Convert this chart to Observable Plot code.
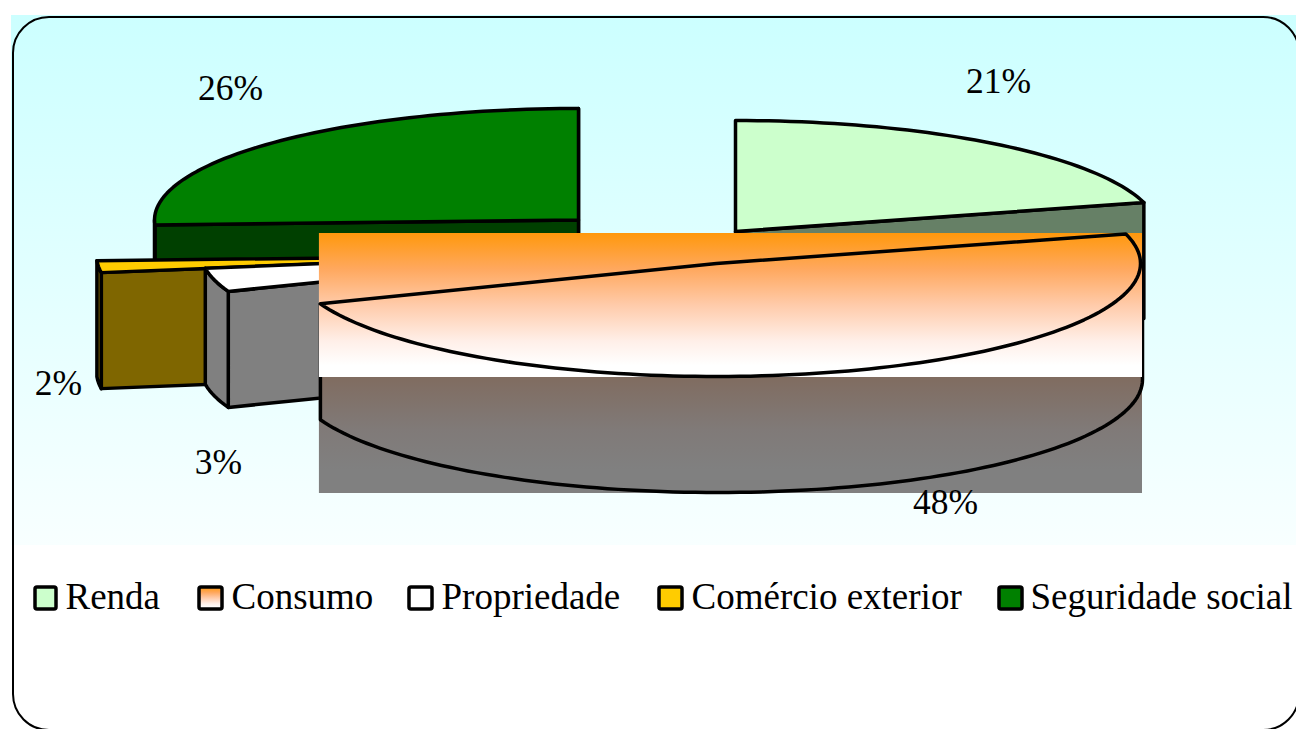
<!DOCTYPE html>
<html>
<head>
<meta charset="utf-8">
<style>
html,body{margin:0;padding:0;background:#fff;overflow:hidden}
</style>
<script src="https://cdn.jsdelivr.net/npm/d3@7"></script>
<script src="https://cdn.jsdelivr.net/npm/@observablehq/plot@0.6"></script>
</head>
<body>
<div id="chart"></div>
<script>
// ---------- data ----------
const categories = ["Renda", "Consumo", "Propriedade", "Comércio exterior", "Seguridade social"];
const shares = [20.8, 48.4, 3.4, 1.7, 25.7];

// ---------- styles ----------
const topFills = ["#CCFFCC", "url(#consumoTop)", "#FFFFFF", "#FFCC00", "#008000"];
const wallFills = ["#668066", "url(#consumoWall)", "#808080", "#7F6600", "#004000"];

// ---------- layout (pie projection, exploded slice centres) ----------
const depth = 116;
const placement = [
  {cx: 735, cy: 231, rx: 423, ry: 111},
  {cx: 716, cy: 263, rx: 424, ry: 113, wallCx: 717, wallRx: 425},
  {cx: 623, cy: 251, rx: 423, ry: 112},
  {cx: 519, cy: 255.3, rx: 423, ry: 112},
  {cx: 578, cy: 219.5, rx: 424, ry: 111.5}
];
const labelAt = [[998, 92], [945, 513], [218, 473], [58, 394], [230, 99]];
const legendSwatchX = [[35, 56], [199, 222], [409, 432], [659, 682], [999, 1022]];
const legendTextX = [65, 231, 441, 691, 1030];
const drawOrder = [4, 0, 3, 2, 1];
const lineWeight = 3.5;

// ---------- geometry from the shares ----------
const rad = d => d * Math.PI / 180;
const boundaries = d3.cumsum(shares).map(c => -90 + c * 3.6);
const starts = [-90, ...boundaries.slice(0, -1)];

function arc(p, t0, t1, cx = p.cx, rx = p.rx, dy = 0) {
  const ts = d3.range(t0, t1, 1.5).concat([t1]);
  return ts.map(t => ({x: cx + rx * Math.cos(rad(t)), y: p.cy + dy + p.ry * Math.sin(rad(t))}));
}

function sliceMarks(i) {
  const p = placement[i], t0 = starts[i], t1 = boundaries[i];
  const top = arc(p, t0, t1);
  const apex = {x: p.cx, y: p.cy};
  const opts = f => ({x: "x", y: "y", fill: f, stroke: "#000", strokeWidth: lineWeight, strokeLinejoin: "round"});
  const marks = [];
  const down = q => ({x: q.x, y: q.y + depth});
  const wallQuad = c => [c, apex, down(apex), down(c), c];
  if (i === 1) {
    // Consumo: its fills paint the whole bounding box of each face
    const wall = arc(p, Math.max(t0, 0), Math.min(t1, 180), p.wallCx, p.wallRx, depth);
    const x1 = d3.min(wall, d => d.x) - 1, x2 = d3.max(wall, d => d.x);
    const y1 = Math.floor(d3.min(top, d => d.y)), y2 = p.cy + p.ry + 1;
    marks.push(Plot.rect([0], {x1: () => x1, x2: () => x2, y1: () => y2, y2: () => y2 + depth, fill: wallFills[i]}));
    const edge = [{x: wall[0].x, y: wall[0].y - depth}, ...wall, {x: wall[wall.length - 1].x, y: wall[wall.length - 1].y - depth}];
    marks.push(Plot.line(edge, {...opts("none")}));
    marks.push(Plot.rect([0], {x1: () => x1, x2: () => x2, y1: () => y1, y2: () => y2, fill: topFills[i]}));
    marks.push(Plot.line([apex, ...top, apex], {...opts("none")}));
    return marks;
  }
  const lo = Math.max(t0, 0), hi = Math.min(t1, 180);
  if (Math.cos(rad(t1)) > 0) marks.push(Plot.line(wallQuad(top[top.length - 1]), opts(wallFills[i])));
  if (Math.cos(rad(t0)) < 0) marks.push(Plot.line(wallQuad(top[0]), opts(wallFills[i])));
  if (lo < hi) {
    const rim = arc(p, lo, hi);
    const ring = [...rim, ...rim.slice().reverse().map(down)];
    marks.push(Plot.line([...ring, ring[0]], opts(wallFills[i])));
  }
  marks.push(Plot.line([apex, ...top, apex], opts(topFills[i])));
  return marks;
}

function gradient(defs, id, stops) {
  const g = defs.append("linearGradient").attr("id", id).attr("x1", 0).attr("y1", 0).attr("x2", 0).attr("y2", 1);
  stops.forEach(([o, c]) => g.append("stop").attr("offset", o).attr("stop-color", c));
}
const defsMark = () => {
  const svg = d3.create("svg:g");
  const defs = svg.append("defs");
  gradient(defs, "backdrop", [[0, "#CCFFFF"], [1, "#F8FFFF"]]);
  gradient(defs, "consumoTop", [[0, "#FF980C"], [0.25, "#FFA85E"], [0.5, "#FFCBAA"], [0.75, "#FFEFE8"], [0.92, "#FFFFFF"], [1, "#FFFFFF"]]);
  gradient(defs, "consumoWall", [[0, "#806C60"], [0.45, "#807A78"], [0.8, "#808080"], [1, "#808080"]]);
  return svg.node();
};

const legend = categories.map((name, i) => ({name, i}));

const chart = Plot.plot({
  width: 1296,
  height: 729,
  margin: 0,
  x: {domain: [0, 1296], range: [0, 1296], axis: null},
  y: {domain: [0, 729], range: [0, 729], axis: null},
  style: {background: "#fff", overflow: "hidden", fontFamily: "'Liberation Serif', serif"},
  marks: [
    defsMark,
    Plot.rect([0], {x1: () => 11, x2: () => 1296, y1: () => 15, y2: () => 545, fill: "url(#backdrop)"}),
    Plot.rect([0], {x1: () => 13, x2: () => 1299, y1: () => 17, y2: () => 730, fill: "none", stroke: "#000", strokeWidth: 2, rx: 36}),
    ...drawOrder.flatMap(sliceMarks),
    Plot.text(legend, {
      x: d => labelAt[d.i][0], y: d => labelAt[d.i][1],
      text: d => `${Math.round(shares[d.i])}%`,
      fontSize: 35.5, fill: "#000", textAnchor: "middle", lineAnchor: "bottom"
    }),
    Plot.rect(legend, {
      x1: d => legendSwatchX[d.i][0], x2: d => legendSwatchX[d.i][1],
      y1: () => 587, y2: () => 609,
      fill: d => d.i === 1 ? "url(#consumoTop)" : topFills[d.i],
      stroke: "#000", strokeWidth: lineWeight, rx: 2
    }),
    Plot.text(legend, {
      x: d => legendTextX[d.i], y: () => 608,
      text: "name",
      fontSize: 37, fill: "#000", textAnchor: "start", lineAnchor: "bottom"
    })
  ]
});
document.getElementById("chart").appendChild(chart);
</script>
</body>
</html>
